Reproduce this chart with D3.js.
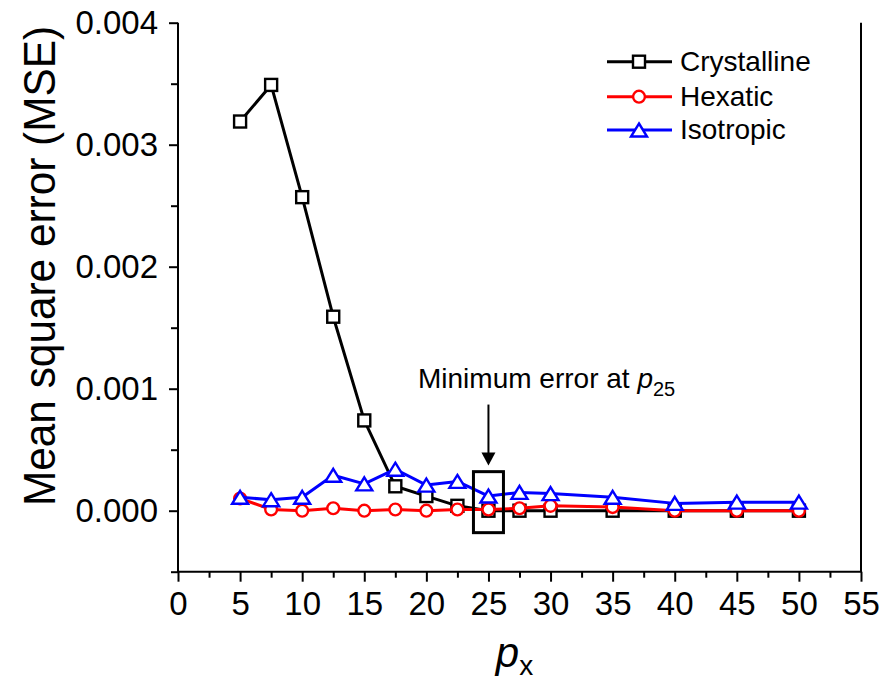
<!DOCTYPE html>
<html>
<head>
<meta charset="utf-8">
<script src="https://cdn.jsdelivr.net/npm/d3@7"></script>
<style>
  html, body { margin: 0; padding: 0; background: #fff; }
  svg { display: block; font-family: "Liberation Sans", Arial, sans-serif; }
</style>
</head>
<body>
<svg id="chart" width="883" height="686"></svg>
<script>
// ---- data ----
const xValues     = [5, 7.5, 10, 12.5, 15, 17.5, 20, 22.5, 25, 27.5, 30, 35, 40, 45, 50];
const crystalline = [0.00319, 0.00349, 0.00257, 0.00159, 0.00074, 0.00020, 0.00012, 0.00004, 0.00000, 0.00000, 0.00000, 0.00000, 0.00000, 0.00000, 0.00000];
const hexatic     = [0.00010, 0.00001, 0.00000, 0.00002, 0.00000, 0.00001, 0.00000, 0.00001, 0.00001, 0.00002, 0.00004, 0.00003, 0.00000, 0.00000, 0.00000];
const isotropic   = [0.00011, 0.00009, 0.00011, 0.00029, 0.00022, 0.00034, 0.00021, 0.00024, 0.00012, 0.00015, 0.00014, 0.00011, 0.00006, 0.00007, 0.00007];
const seriesNames = ["Crystalline", "Hexatic", "Isotropic"];
const seriesColors = ["#000000", "#ff0000", "#0000ff"];
const xTicks = [0, 5, 10, 15, 20, 25, 30, 35, 40, 45, 50, 55];
const xMinorTicks = [2.5, 7.5, 12.5, 17.5, 22.5, 27.5, 32.5, 37.5, 42.5, 47.5, 52.5];
const yTicks = [0, 0.001, 0.002, 0.003, 0.004];
const yMinorTicks = [-0.0005, 0.0005, 0.0015, 0.0025, 0.0035];
const xDomain = [0, 55];
const yDomain = [-0.0005, 0.004];
// annotation (data space)
const annotX = 25;
const boxTop = 0.00032, boxBottom = -0.00018;
const arrowFrom = 0.00087, arrowTo = 0.00037;

// ---- layout ----
const svg = d3.select("#chart");
const L = 178, R = 861, T = 22.7, B = 571.7;
const x = d3.scaleLinear().domain(xDomain).range([L, R]);
const y = d3.scaleLinear().domain(yDomain).range([B, T]);

// axes
const xAxis = svg.append("g").attr("transform", `translate(0,${B})`)
  .call(d3.axisBottom(x).tickValues(xTicks).tickSize(10).tickPadding(10).tickFormat(d3.format("d")));
xAxis.select(".domain").remove();
xAxis.selectAll(".tick line").attr("stroke", "#000").attr("stroke-width", 2);
xAxis.selectAll(".tick text").attr("font-size", 33).attr("fill", "#000")
  .attr("font-family", "Liberation Sans, Arial, sans-serif").attr("dy", "0.71em");
svg.append("g").attr("transform", `translate(0,${B})`)
  .call(d3.axisBottom(x).tickValues(xMinorTicks).tickSize(6).tickFormat(""))
  .call(g => g.select(".domain").remove())
  .selectAll(".tick line").attr("stroke", "#000").attr("stroke-width", 2);

const yAxis = svg.append("g").attr("transform", `translate(${L},0)`)
  .call(d3.axisLeft(y).tickValues(yTicks).tickSize(9).tickPadding(11).tickFormat(d3.format(".3f")));
yAxis.select(".domain").remove();
yAxis.selectAll(".tick line").attr("stroke", "#000").attr("stroke-width", 2);
yAxis.selectAll(".tick text").attr("font-size", 33).attr("fill", "#000")
  .attr("font-family", "Liberation Sans, Arial, sans-serif");
svg.append("g").attr("transform", `translate(${L},0)`)
  .call(d3.axisLeft(y).tickValues(yMinorTicks).tickSize(7).tickFormat(""))
  .call(g => g.select(".domain").remove())
  .selectAll(".tick line").attr("stroke", "#000").attr("stroke-width", 2);

// frame: left, bottom, right
svg.append("path")
  .attr("d", `M${L},${T}V${B}H${R}V${T}`)
  .attr("fill", "none").attr("stroke", "#000").attr("stroke-width", 2);

// axis titles
svg.append("text")
  .attr("transform", `translate(55,266) rotate(-90)`)
  .attr("text-anchor", "middle").attr("font-size", 44).attr("fill", "#000")
  .attr("textLength", 480).attr("lengthAdjust", "spacingAndGlyphs")
  .text("Mean square error (MSE)");

const xt = svg.append("text").attr("x", (L + R) / 2 - 5).attr("y", 667)
  .attr("text-anchor", "middle").attr("fill", "#000");
xt.append("tspan").attr("font-size", 42).attr("font-style", "italic").text("p");
xt.append("tspan").attr("font-size", 28).attr("dy", 8).text("x");

// ---- series ----
const seriesData = [crystalline, hexatic, isotropic];
const markers = ["square", "circle", "triangle"];

function drawMarker(g, type, color, cx, cy) {
  if (type === "square") {
    g.append("rect").attr("x", cx - 6).attr("y", cy - 6).attr("width", 12).attr("height", 12)
      .attr("fill", "#fff").attr("stroke", color).attr("stroke-width", 2.4);
  } else if (type === "circle") {
    g.append("circle").attr("cx", cx).attr("cy", cy).attr("r", 5.9)
      .attr("fill", "#fff").attr("stroke", color).attr("stroke-width", 2.4);
  } else {
    g.append("path").attr("d", `M${cx},${cy - 6.5}L${cx + 8},${cy + 6.5}L${cx - 8},${cy + 6.5}Z`)
      .attr("fill", "#fff").attr("stroke", color).attr("stroke-width", 2.4)
      .attr("stroke-linejoin", "miter");
  }
}

seriesData.forEach((vals, i) => {
  const pts = xValues.map((xv, j) => [xv, vals[j]]);
  const g = svg.append("g");
  const line = d3.line().x(d => x(d[0])).y(d => y(d[1])).curve(d3.curveLinear);
  g.append("path").datum(pts).attr("d", line)
    .attr("fill", "none").attr("stroke", seriesColors[i]).attr("stroke-width", 3)
    .attr("stroke-linejoin", "round");
  pts.forEach(d => drawMarker(g, markers[i], seriesColors[i], x(d[0]), y(d[1])));
});

// ---- legend ----
const legRows = [61.7, 96.7, 130];
seriesNames.forEach((name, i) => {
  const g = svg.append("g");
  g.append("line").attr("x1", 607).attr("x2", 672).attr("y1", legRows[i]).attr("y2", legRows[i])
    .attr("stroke", seriesColors[i]).attr("stroke-width", 3);
  drawMarker(g, markers[i], seriesColors[i], 639, legRows[i]);
  g.append("text").attr("x", 680).attr("y", legRows[i] + 9).attr("font-size", 28)
    .attr("fill", "#000").text(name);
});

// ---- annotation ----
const ax = x(annotX);
svg.append("rect")
  .attr("x", ax - 15).attr("y", y(boxTop)).attr("width", 30).attr("height", y(boxBottom) - y(boxTop))
  .attr("fill", "none").attr("stroke", "#000").attr("stroke-width", 3);
svg.append("line").attr("x1", ax).attr("x2", ax).attr("y1", y(arrowFrom)).attr("y2", y(arrowTo) - 10)
  .attr("stroke", "#000").attr("stroke-width", 2);
svg.append("path")
  .attr("d", `M${ax - 7},${y(arrowTo) - 13}L${ax + 7},${y(arrowTo) - 13}L${ax},${y(arrowTo)}Z`)
  .attr("fill", "#000");
const at = svg.append("text").attr("x", 418).attr("y", 388).attr("font-size", 28).attr("fill", "#000");
at.append("tspan").text("Minimum error at ");
at.append("tspan").attr("font-style", "italic").text("p");
at.append("tspan").attr("font-size", 20).attr("dy", 8).text("25");
</script>
</body>
</html>
